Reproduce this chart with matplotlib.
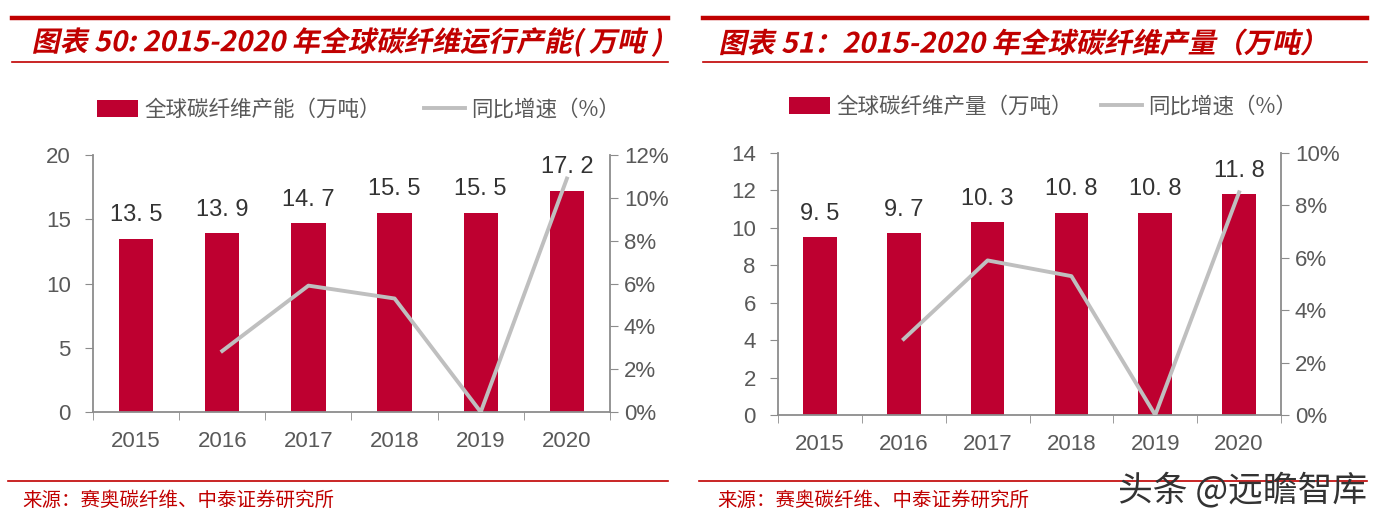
import numpy as np
import matplotlib.pyplot as plt
from matplotlib.lines import Line2D
from matplotlib.ticker import FuncFormatter
from matplotlib.textpath import TextPath
from matplotlib.patches import PathPatch
from matplotlib.font_manager import FontProperties
from matplotlib.transforms import Affine2D, IdentityTransform

plt.rcParams['font.family'] = ['Liberation Sans', 'Noto Sans CJK SC', 'DejaVu Sans']

years = ['2015', '2016', '2017', '2018', '2019', '2020']

# chart 50: capacity
capacity = [13.5, 13.9, 14.7, 15.5, 15.5, 17.2]
capacity_growth = [np.nan, 2.85, 5.9, 5.3, 0.0, 10.9]

# chart 51: output
output = [9.5, 9.7, 10.3, 10.8, 10.8, 11.8]
output_growth = [np.nan, 2.9, 5.9, 5.3, 0.0, 8.5]

red = '#C00000'
bar_red = '#BE0030'
gray_line = '#BFBFBF'
txt = '#595959'
spine_c = '#8C8C8C'
cjk = ['Noto Sans CJK SC', 'DejaVu Sans']

W, H = 1383, 522
fig = plt.figure(figsize=(W / 100, H / 100), dpi=100)


def fx(px):
    return px / W


def fy(py):
    return 1 - py / H


def hline(x0, x1, y, lw):
    fig.add_artist(Line2D([fx(x0), fx(x1)], [fy(y), fy(y)], color=red, lw=lw))


def slanted_title(s, x0, x1, yc):
    # bold italic look: skew the glyph outlines, then fit to the width in the picture
    tp = TextPath((0, 0), s, size=20, prop=FontProperties(family='Noto Sans CJK SC', weight='bold'))
    tr = Affine2D().skew_deg(12, 0)
    ext = tp.transformed(tr).get_extents()
    k = (x1 - x0) / ext.width
    tr = tr.translate(-ext.x0, -(ext.y0 + ext.y1) / 2).scale(k).translate(x0, H - yc)
    fig.add_artist(PathPatch(tp, transform=tr + IdentityTransform(), color=red, lw=0))


def panel(rect, vals, growth, ymax, ystep, pmax, title, title_x, lines, bar_name,
          leg_x, leg_y, colsp, src_x):
    ax = fig.add_axes(rect)
    x = np.arange(len(years))
    bars = ax.bar(x, vals, width=0.4, color=bar_red, label=bar_name, zorder=2)
    ax.bar_label(bars, labels=[f'{v:.1f}'.replace('.', '. ') for v in vals],
                 padding=9, fontsize=17, color='#333333')
    ax.set_xlim(-0.5, len(years) - 0.5)
    ax.set_ylim(0, ymax)
    ax.set_yticks(np.arange(0, ymax + 0.1, ystep))
    ax.set_xticks(x)
    ax.set_xticklabels(years)
    ax.set_xticks(np.arange(-0.5, len(years), 1), minor=True)
    ax.tick_params(axis='x', which='major', length=0, pad=14)
    ax.tick_params(axis='x', which='minor', length=6, color=spine_c, direction='out')
    ax.tick_params(axis='y', length=6, color=spine_c, pad=10)
    ax.tick_params(labelsize=16, labelcolor=txt)
    for s in ['top', 'right']:
        ax.spines[s].set_visible(False)
    for s in ['left', 'bottom']:
        ax.spines[s].set_color(spine_c)
        ax.spines[s].set_linewidth(1.3)

    ax2 = ax.twinx()
    ln, = ax2.plot(x, growth, color=gray_line, lw=2.8, label='同比增速（%）', zorder=3)
    ax2.set_ylim(0, pmax)
    ax2.set_yticks(np.arange(0, pmax + 0.1, 2))
    ax2.yaxis.set_major_formatter(FuncFormatter(lambda v, p: f'{v:.0f}%'))
    ax2.tick_params(axis='y', length=6, color=spine_c, labelsize=16, labelcolor=txt, pad=4)
    for s in ['top', 'left', 'bottom']:
        ax2.spines[s].set_visible(False)
    ax2.spines['right'].set_color(spine_c)
    ax2.spines['right'].set_linewidth(1.3)

    leg = ax.legend([bars, ln], [bar_name, '同比增速（%）'], ncol=2, frameon=False,
                    loc='center left', bbox_to_anchor=(fx(leg_x), fy(leg_y)),
                    bbox_transform=fig.transFigure, prop={'family': cjk, 'size': 15.5},
                    handlelength=1.9, handleheight=0.85, columnspacing=colsp, handletextpad=0.3,
                    borderaxespad=0, borderpad=0)
    for t in leg.get_texts():
        t.set_color(txt)

    slanted_title(title[0], title_x[0], title_x[1], 42)
    hline(lines[0], lines[1], 18, 3.2)
    hline(lines[0], lines[1], 62, 1.2)
    hline(lines[0] - 4, lines[1], 481, 1.2)
    fig.text(fx(src_x), fy(500), '来源：赛奥碳纤维、中泰证券研究所', fontsize=14,
             color=red, family=cjk, va='center', ha='left')


panel([fx(93), fy(412), fx(610) - fx(93), fy(155) - fy(412)], capacity, capacity_growth,
      20, 5, 12, ['图表 50: 2015-2020 年全球碳纤维运行产能( 万吨 )'], (33, 662), (12, 668),
      '全球碳纤维产能（万吨）', 97, 110, 2.0, 22)
panel([fx(778), fy(415), fx(1281) - fx(778), fy(153) - fy(415)], output, output_growth,
      14, 2, 10, ['图表 51：2015-2020 年全球碳纤维产量（万吨）'], (720, 1312), (703, 1367),
      '全球碳纤维产量（万吨）', 789, 107, 1.3, 717)

fig.text(fx(1118), fy(490), '头条 @远瞻智库', fontsize=25, color='#333333',
         family=cjk, va='center', ha='left')

fig.savefig('out.png', dpi=100)
